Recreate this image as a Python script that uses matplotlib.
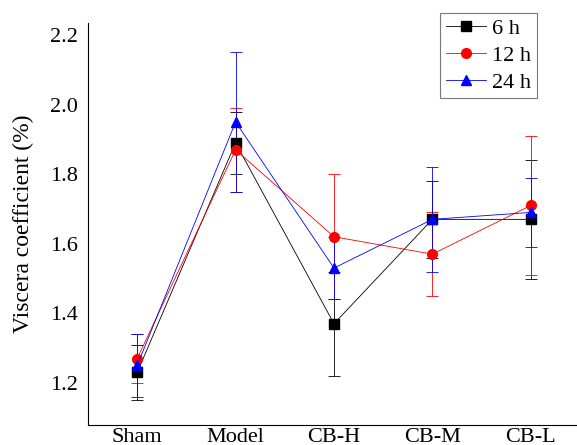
import matplotlib.pyplot as plt
import numpy as np

plt.rcParams['font.family'] = ['Liberation Serif', 'DejaVu Serif']

groups = ['Sham', 'Model', 'CB-H', 'CB-M', 'CB-L']
labels = ['6 h', '12 h', '24 h']

h6 = [1.23, 1.89, 1.37, 1.67, 1.67]
h12 = [1.27, 1.87, 1.62, 1.57, 1.71]
h24 = [1.25, 1.95, 1.53, 1.67, 1.69]

err6 = [0.08, 0.09, 0.15, 0.11, 0.17]
err12 = [0.07, 0.12, 0.18, 0.12, 0.20]
err24 = [0.09, 0.20, 0.09, 0.15, 0.10]

x = np.arange(len(groups))

fig = plt.figure(figsize=(5.77, 4.45), dpi=100)
ax = fig.add_axes([0.1525, 0.045, 0.8475, 0.903])

styles = [('black', 's'), ('red', 'o'), ('blue', '^')]
handles = []
for vals, errs, lab, (c, m) in zip([h6, h12, h24], [err6, err12, err24], labels, styles):
    cont = ax.errorbar(x, vals, yerr=errs, color=c, marker=m, markersize=7,
                       linewidth=0.6, elinewidth=0.6, capsize=4, capthick=0.6,
                       label=lab)
    handles.append(cont.lines[0])

ax.set_xlim(-0.5, 4.47)
ax.set_ylim(1.079, 2.234)
ax.set_xticks(x)
ax.set_xticklabels(groups)
ax.set_yticks([1.2, 1.4, 1.6, 1.8, 2.0, 2.2])
ax.tick_params(length=0, labelsize=16)
ax.tick_params(axis='y', pad=7)
ax.tick_params(axis='x', pad=2)
ax.set_ylabel('Viscera coefficient (%)', fontsize=17, labelpad=12)
for s in ['top', 'right']:
    ax.spines[s].set_visible(False)

leg = ax.legend(handles=handles, labels=labels, loc='upper right',
                bbox_to_anchor=(0.918, 1.025), fontsize=16,
                fancybox=False, edgecolor='#555555', handlelength=1.8,
                borderpad=0.25, labelspacing=0.28, handletextpad=0.3,
                borderaxespad=0)
leg.get_frame().set_linewidth(0.8)

plt.savefig('out.png', dpi=100)
